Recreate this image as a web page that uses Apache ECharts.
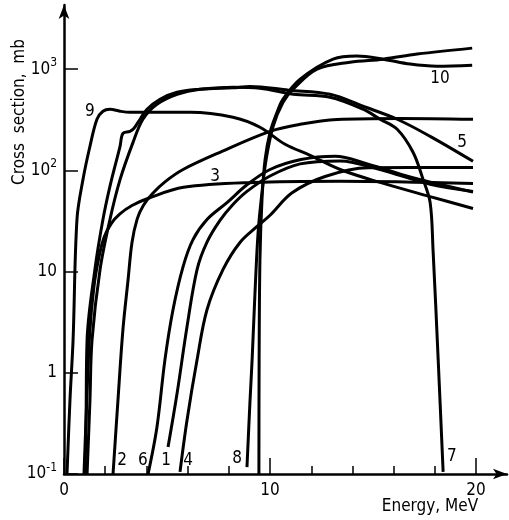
<!DOCTYPE html>
<html>
<head>
<meta charset="utf-8">
<script src="https://cdn.jsdelivr.net/npm/echarts@6/dist/echarts.min.js"></script>
<style>html,body{margin:0;padding:0;background:#fff}#c{width:509px;height:520px}</style>
</head>
<body>
<div id="c"></div>
<script>
// ---- tick labels ----
const energyMajorTicks = [0, 10, 20];
const energyMinorTicks = [2, 4, 6, 8, 12, 14, 16, 18];
const sigmaTicks = [0.1, 1, 10, 100, 1000];

// ---- curves: [energy MeV, cross section mb] ----
const curve1 = [[5.05,0.185],[5.49,0.63],[5.97,2.85],[6.46,10.5],[6.94,19.5],[7.57,32],[8.2,46],[8.88,62],[10.0,88],[11.46,116],[13.4,124],[15.34,102],[17.77,73],[19.85,62]];
const curve2 = [[2.38,0.1],[2.62,0.54],[2.86,2.67],[3.11,8.3],[3.30,19.4],[3.55,33],[3.85,45],[4.3,59],[4.9,77],[5.78,102],[7.57,151],[10.0,243],[11.46,285],[13.25,318],[16.3,326],[19.85,320]];
const curve3 = [[0.97,0.1],[1.1,0.5],[1.25,2.5],[1.45,7],[1.7,14],[1.95,22],[2.3,30],[2.7,37],[3.3,45],[4.1,53],[5.8,68],[9.2,76],[13.4,78],[19.85,74]];
const curve4 = [[5.63,0.105],[5.97,0.34],[6.46,1.35],[6.94,4.2],[7.72,10.5],[8.54,19.4],[9.37,27.9],[10.0,36],[11.07,60],[12.67,87],[14.76,106],[19.85,107]];
const curve5 = [[1.12,0.1],[1.26,0.54],[1.36,2.1],[1.75,10.5],[2.23,32.7],[2.72,81],[3.35,189],[3.83,320],[4.51,450],[5.49,565],[6.6,634],[8.2,655],[9.03,675],[10.9,620],[12.91,565],[14.51,430],[16.17,320],[17.77,217],[19.85,123]];
const curve6 = [[4.08,0.1],[4.51,0.29],[4.90,1.35],[5.29,4.2],[5.78,11.2],[6.26,20.7],[6.94,32.7],[7.91,48],[8.88,72],[10.0,102],[11.5,128],[13.16,138],[14.76,115],[16.89,85],[19.85,61]];
const curve7 = [[1.02,0.1],[1.07,0.34],[1.12,2.12],[1.50,10.5],[1.89,32.7],[2.23,69.5],[2.72,173],[2.86,232],[3.20,243],[3.40,261],[3.69,320],[4.03,402],[4.66,505],[5.49,592],[6.6,634],[8.2,664],[9.51,649],[11.12,565],[12.91,528],[14.51,402],[15.34,320],[16.17,255],[16.94,151],[17.43,81],[17.77,48],[17.91,16.5],[18.16,1.35],[18.40,0.105]];
const curve8 = [[8.88,0.117],[9.03,0.54],[9.13,1.35],[9.27,6.2],[9.42,24.3],[9.61,61],[9.81,128],[10.15,273],[10.63,471],[11.12,634],[12.28,1000],[13.88,1172],[15.49,1256],[17.14,1409],[19.81,1614]];
const curve9 = [[0.146,0.1],[0.29,0.54],[0.44,2.1],[0.63,33],[0.92,81],[1.26,173],[1.60,320],[1.89,384],[2.23,402],[2.72,384],[3.2,375],[6.12,375],[8.2,335],[9.51,267],[10.73,181],[11.94,141],[13.4,102],[15.34,76],[17.77,55],[19.85,42]];
const curve10 = [[9.46,0.1],[9.47,1.35],[9.51,13.2],[9.61,52],[9.76,128],[10.0,238],[10.34,375],[10.63,505],[11.46,796],[13.06,1256],[14.22,1346],[15.49,1256],[16.8,1122],[18.1,1071],[19.81,1096]];
const curves = [curve1, curve2, curve3, curve4, curve5, curve6, curve7, curve8, curve9, curve10];

// ---- curve number labels: [energy, cross section, text] ----
const curveLabels = [[1.26,384,'9'],[7.33,87,'3'],[18.25,815,'10'],[19.32,189,'5'],[2.82,0.135,'2'],[3.83,0.135,'6'],[4.95,0.135,'1'],[6.02,0.135,'4'],[8.40,0.141,'8'],[18.83,0.15,'7']];

const FONT = "'DejaVu Sans Condensed','DejaVu Sans',sans-serif";
const chart = echarts.init(document.getElementById('c'), null, {renderer: 'canvas'});

const xMax = 21.5;
const yMax = Math.pow(10, 3.634);

const series = curves.map((c, i) => ({
  type: 'line', name: 'c' + (i + 1), data: c, showSymbol: false, smooth: 0.35,
  lineStyle: {color: '#000', width: 3}, xAxisIndex: 0, yAxisIndex: 0, z: 3
}));
series.push({
  type: 'scatter', data: curveLabels.map(d => ({value: [d[0], d[1]], label: {formatter: d[2]}})),
  symbolSize: 0, xAxisIndex: 0, yAxisIndex: 0, itemStyle: {opacity: 1, color: '#000'},
  label: {show: true, position: 'inside', color: '#000', fontSize: 17, fontFamily: FONT}
});

chart.setOption({
  animation: false,
  backgroundColor: '#fff',
  grid: {left: 64, right: 2, top: 5, bottom: 46, containLabel: false},
  xAxis: [{
    type: 'value', min: 0, max: xMax, position: 'bottom',
    axisLine: {show: true, onZero: false, lineStyle: {color: '#000', width: 2.5}, symbol: ['none', 'arrow'], symbolSize: [8, 14]},
    axisTick: {show: true, inside: true, length: 16, lineStyle: {color: '#000', width: 1.5}, customValues: energyMajorTicks},
    axisLabel: {show: true, margin: 8, color: '#000', fontSize: 17, fontFamily: FONT, customValues: energyMajorTicks, formatter: v => String(Math.round(v))},
    splitLine: {show: false}
  }, {
    type: 'value', min: 0, max: xMax, position: 'bottom',
    axisLine: {show: false},
    axisTick: {show: true, inside: true, length: 8, lineStyle: {color: '#000', width: 1.5}, customValues: energyMinorTicks},
    axisLabel: {show: false},
    splitLine: {show: false}
  }],
  yAxis: [{
    type: 'log', logBase: 10, min: 0.1, max: yMax, position: 'left',
    axisLine: {show: true, onZero: false, lineStyle: {color: '#000', width: 2.5}, symbol: ['none', 'arrow'], symbolSize: [8, 14]},
    axisTick: {show: true, inside: true, length: 14, lineStyle: {color: '#000', width: 1.5}, customValues: sigmaTicks},
    axisLabel: {
      show: true, margin: 7, color: '#000', fontSize: 17, fontFamily: FONT, customValues: sigmaTicks,
      formatter: v => {
        const p = Math.round(Math.log10(v));
        if (p === 0) return '1';
        if (p === 1) return '10';
        return '10{s|' + (p < 0 ? '-' : '') + Math.abs(p) + '}';
      },
      rich: {s: {fontSize: 12, fontFamily: FONT, color: '#000', padding: [0, 0, 12, 0]}}
    },
    splitLine: {show: false}
  }],
  graphic: [
    {type: 'text', x: 20, y: 112, rotation: Math.PI / 2,
     style: {text: 'Cross  section,  mb', fill: '#000', font: '17px ' + FONT, textAlign: 'center', textVerticalAlign: 'middle'}},
    {type: 'text', x: 430, y: 507,
     style: {text: 'Energy, MeV', fill: '#000', font: '17px ' + FONT, textAlign: 'center', textVerticalAlign: 'middle'}}
  ],
  series: series
});
</script>
</body>
</html>
